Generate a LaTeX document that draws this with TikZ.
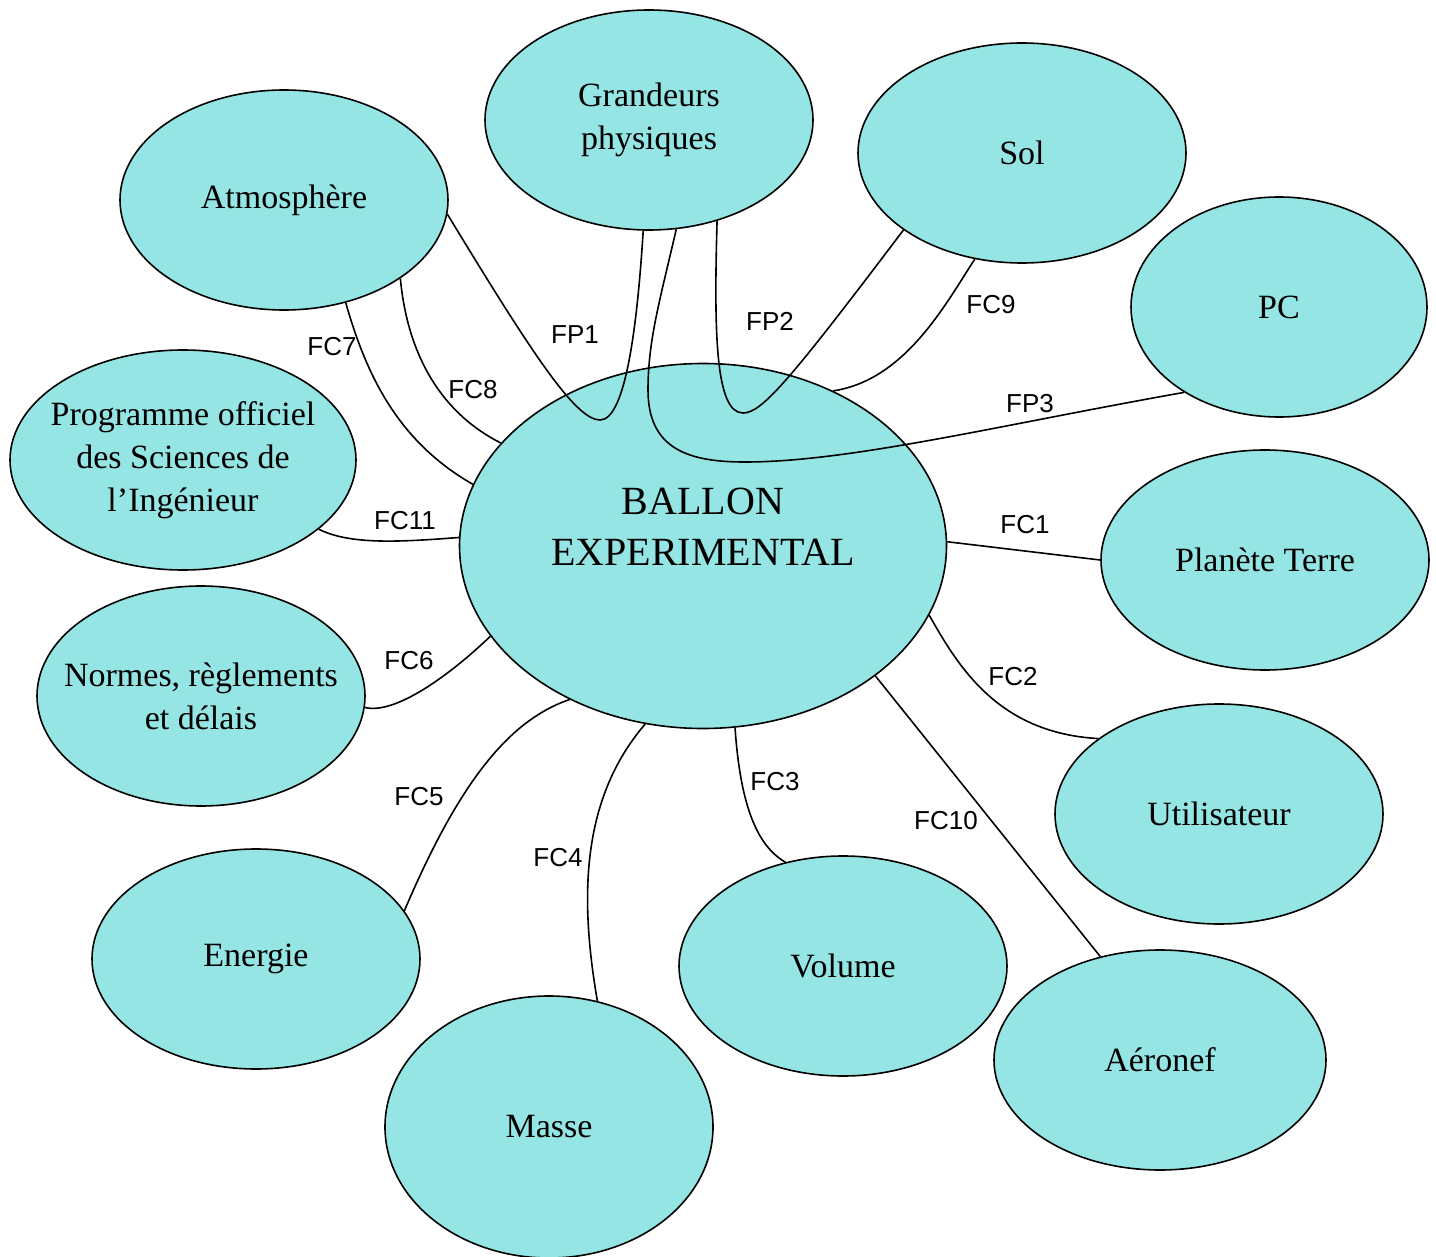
\documentclass[tikz,border=0pt]{standalone}
\usepackage{fontspec}
\setmainfont{Liberation Serif}
\setsansfont{Liberation Sans}
\usetikzlibrary{shapes.geometric}
\definecolor{turquoise}{RGB}{148,229,227}

\begin{document}
\begin{tikzpicture}[x=0.5pt,y=-0.5pt]
\tikzstyle{bulle}=[ellipse,draw,fill=turquoise,line width=0.8pt,align=center,
  inner xsep=-30pt,inner ysep=0pt,minimum width=164pt,minimum height=110pt,
  font=\fontsize{17}{21.5}\selectfont]
\tikzstyle{fc}=[font=\sffamily\fontsize{13}{15}\selectfont,inner sep=0pt]
\tikzstyle{lien}=[line width=0.8pt]
\useasboundingbox (0,0) rectangle (1436,1257);

% les milieux exterieurs
\node[bulle] (grand) at (649,120) {Grandeurs\\physiques};
\node[bulle] (atm) at (284,200) {Atmosphère};
\node[bulle] (sol) at (1022,153) {Sol};
\node[bulle,minimum width=148pt] (pc) at (1279,307) {PC};
\node[bulle,minimum width=173pt] (prog) at (183,460) {Programme officiel\\des Sciences de\\l’Ingénieur};
\node[bulle] (terre) at (1265,560) {Planète Terre};
\node[bulle] (normes) at (201,696) {Normes, règlements\\et délais};
\node[bulle] (util) at (1219,814) {Utilisateur};
\node[bulle] (energie) at (256,959) {Energie};
\node[bulle] (volume) at (843,966) {Volume};
\node[bulle,minimum width=166pt] (aero) at (1160,1060) {Aéronef};
\node[bulle,minimum height=131pt] (masse) at (549,1127) {Masse};

% le systeme
\node[bulle,minimum width=243.5pt,minimum height=182.5pt,
  font=\fontsize{20}{25.5}\selectfont] (ballon) at (703,546)
  {BALLON\\EXPERIMENTAL\rule[-19pt]{0pt}{19pt}};

% fonctions principales
\draw[lien] (atm.-5) .. controls (530,350) and (575,420) .. (600,420)
  .. controls (625,420) and (637,330) .. (grand.267);
\draw[lien] (grand.-56) .. controls (714,330) and (715,413) .. (743,413)
  .. controls (762,413) and (790,380) .. (sol.213);
\draw[lien] (grand.-76) .. controls (660,300) and (648,340) .. (648,390)
  .. controls (648,450) and (690,462) .. (745,462)
  .. controls (850,462) and (1000,425) .. (pc.222);

% fonctions contraintes
\draw[lien] (atm.-59) .. controls (365,370) and (395,440) .. (ballon.165);
\draw[lien] (atm.-34) .. controls (408,360) and (445,415) .. (ballon.153.5);
\draw[lien] (sol.246) .. controls (945,305) and (905,380) .. (ballon.50);
\draw[lien] (prog.-27) .. controls (350,545) and (400,542) .. (ballon.178);
\draw[lien] (normes.-4) .. controls (395,715) and (450,675) .. (ballon.203);
\draw[lien] (ballon.1) -- (terre.180);
\draw[lien] (ballon.-17) .. controls (960,670) and (1000,733) .. (util.148);
\draw[lien] (ballon.-37) -- (aero.120.5);
\draw[lien] (ballon.-80.7) .. controls (740,800) and (755,845) .. (volume.119);
\draw[lien] (ballon.252.7) .. controls (580,800) and (580,900) .. (masse.69);
\draw[lien] (ballon.229) .. controls (510,720) and (460,780) .. (energie.18);

% etiquettes
\node[fc] (fp1) at (575,335) {FP1};
\node[fc] (fp2) at (770,321) {FP2};
\node[fc] (fp3) at (1030,404) {FP3};
\node[fc] (fc1) at (1025,525) {FC1};
\node[fc] (fc2) at (1013,677) {FC2};
\node[fc] (fc3) at (775,782) {FC3};
\node[fc] (fc4) at (558,858) {FC4};
\node[fc] (fc5) at (419,797) {FC5};
\node[fc] (fc6) at (409,661) {FC6};
\node[fc] (fc7) at (332,347) {FC7};
\node[fc] (fc8) at (473,390) {FC8};
\node[fc] (fc9) at (991,305) {FC9};
\node[fc] (fc10) at (946,821) {FC10};
\node[fc] (fc11) at (405,521) {FC11};
\end{tikzpicture}
\end{document}
